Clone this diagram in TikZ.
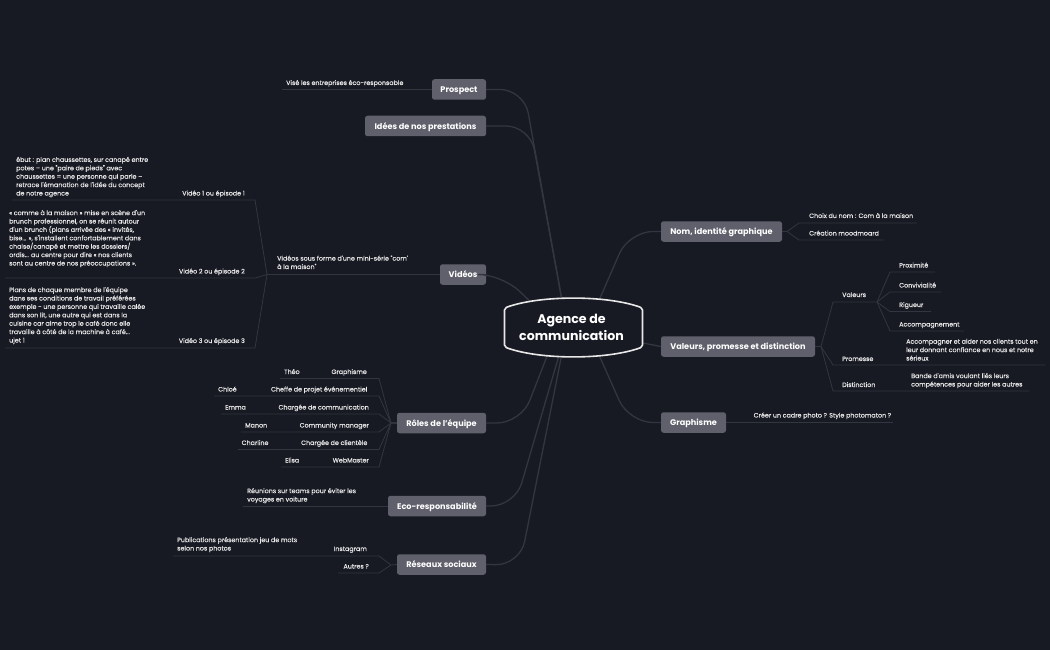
\documentclass[tikz,border=0pt]{standalone}
\usepackage{fontspec}
\setmainfont{Poppins}
\newfontfamily\leaffont{Poppins}[FakeBold=0.25]
\usepackage{xcolor}
\usetikzlibrary{positioning}
\definecolor{fond}{HTML}{171923}
\definecolor{branche}{HTML}{34363F}
\definecolor{sujet}{HTML}{5F606B}
\definecolor{texte}{HTML}{E8E8E8}
\begin{document}
\begin{tikzpicture}[x=1pt,y=-1pt]
\tikzstyle{topic}=[rounded corners=2.5pt, fill=sujet, text=white, inner sep=0pt, minimum height=20.5pt, text height=7pt, text depth=0.6pt, font=\fontsize{8.15}{10}\bfseries\selectfont]
\tikzstyle{leaf}=[inner sep=0pt, anchor=base west, align=left, text=texte, font=\fontsize{6.35}{8.4}\leaffont\selectfont]
\tikzstyle{leafr}=[leaf, anchor=base east, align=right]
\tikzstyle{branch}=[draw=branche, line width=1.3pt, rounded corners=24pt]
\tikzstyle{twig}=[draw=branche, line width=0.8pt]
\fill[fond] (0,0) rectangle (1050,650);
\coordinate (Agence) at (567,328);
\coordinate (AgenceL) at (558,328);
\coordinate (AgenceR) at (587,328);
% topics
\node[topic, minimum width=54pt] (Prospect) at (459,89.5) {Prospect};
\node[topic, minimum width=121pt] (Idees) at (425.5,126) {Idées de nos prestations};
\node[topic, minimum width=46pt] (Videos) at (463,274.5) {Vidéos};
\node[topic, minimum width=89pt] (Roles) at (441.5,423) {Rôles de l'équipe};
\node[topic, minimum width=98pt] (Eco) at (437,506) {Eco-responsabilité};
\node[topic, minimum width=89pt] (Reseaux) at (441.5,564.5) {Réseaux sociaux};
\node[topic, minimum width=121pt] (Nom) at (721.5,231.5) {Nom, identité graphique};
\node[topic, minimum width=154pt] (Valeurs) at (738,346.5) {Valeurs, promesse et distinction};
\node[topic, minimum width=65pt] (Graphisme) at (693.5,422.5) {Graphisme};
% main branches
\path[branch] (Prospect.east) -- (524,89.5) -- (Agence);
\path[branch] (Idees.east) -- (530,126) -- (Agence);
\path[branch] (Videos.east) -- (502,274.5) -- (AgenceL);
\path[branch] (Roles.east) -- (521,423) -- (AgenceL);
\path[branch] (Eco.east) -- (515,506) -- (Agence);
\path[branch] (Reseaux.east) -- (520,565) -- (Agence);
\path[branch] (Nom.west) -- (629,231.5) -- (AgenceR);
\path[branch] (Valeurs.west) -- (Agence);
\path[branch] (Graphisme.west) -- (629,422.5) -- (AgenceR);
% centre
\path[draw=texte, fill=fond, line width=1.6pt, rounded corners=2pt] (504.5,308) .. controls (540,295) and (607,295) .. (642.5,308) -- (642.5,347) .. controls (607,360) and (540,360) .. (504.5,347) -- cycle;
\node[inner sep=0pt, align=center, text=white, font=\fontsize{12.6}{17}\bfseries\selectfont] (Centre) at (571.5,327.5) {Agence de\\communication};
% prospect
\node[leaf] (Vise) at (286,85) {Visé les entreprises éco-responsable};
\coordinate (ProspectEnd) at (282,89.5);
\path[twig] (Prospect.west) -- (ProspectEnd);
% videos
\node[leaf] (Serie) at (277,269) {Vidéos sous forme d'une mini-série "com'\\à la maison"};
\node[leafr] (V1) at (245,195.5) {Vidéo 1 ou épisode 1};
\node[leafr] (V2) at (245,273.5) {Vidéo 2 ou épisode 2};
\node[leafr] (V3) at (245,343) {Vidéo 3 ou épisode 3};
\node[leaf] (V1t) at (16,195.5) {ébut : plan chaussettes, sur canapé entre\\potes – une "paire de pieds" avec\\chaussettes = une personne qui parle –\\retrace l'émanation de l'idée du concept\\de notre agence};
\node[leaf] (V2t) at (9,265.5) {« comme à la maison » mise en scène d'un\\brunch professionnel, on se réunit autour\\d'un brunch (plans arrivée des « invités,\\bise... », s'installent confortablement dans\\chaise/canapé et mettre les dossiers/\\ordis... au centre pour dire « nos clients\\sont au centre de nos préoccupations ».};
\node[leaf] (V3t) at (9,342.5) {Plans de chaque membre de l'équipe\\dans ses conditions de travail préférées\\exemple - une personne qui travaille calée\\dans son lit, une autre qui est dans la\\cuisine car aime trop le café donc elle\\travaille à côté de la machine à café...\\ujet 1};
\coordinate (VideosJ) at (267,274.5);
\coordinate (V1a) at (255,200); \coordinate (V1b) at (12,200);
\coordinate (V2a) at (255,278); \coordinate (V2b) at (5,278);
\coordinate (V3a) at (255,348); \coordinate (V3b) at (5,348);
\path[twig] (Videos.west) -- (VideosJ) -- (V1a) -- (V1b);
\path[twig] (VideosJ) -- (V2a) -- (V2b);
\path[twig] (VideosJ) -- (V3a) -- (V3b);
% roles
\coordinate (RolesJ) at (391,423);
\foreach \name/\yy/\xx/\rolex/\role/\who/\whox in {A/378.5/280/367/Graphisme/Théo/284, B/396/214/367.5/Cheffe de projet événementiel/Chloé/218, C/414/221/369/Chargée de communication/Emma/225, D/432/241/369/Community manager/Manon/245, E/449.5/238/367.5/Chargée de clientèle/Charline/241.5, F/467/281/369/WebMaster/Elisa/285}{
  \coordinate (R\name a) at (379,\yy);
  \coordinate (R\name b) at (\xx,\yy);
  \path[twig] (Roles.west) -- (RolesJ) -- (R\name a) -- (R\name b);
  \node[leafr] (R\name r) at (\rolex,\yy-4.5) {\role};
  \node[leaf] (R\name w) at (\whox,\yy-4.5) {\who};
}
% eco
\node[leaf] (Teams) at (247,501.5) {Réunions sur teams pour éviter les\\voyages en voiture};
\coordinate (EcoEnd) at (243,506);
\path[twig] (Eco.west) -- (EcoEnd);
% reseaux
\coordinate (ReseauxJ) at (391,565);
\coordinate (Insta) at (379,556); \coordinate (InstaEnd) at (173,556);
\coordinate (Autres) at (379,573); \coordinate (AutresEnd) at (338,573);
\path[twig] (Reseaux.west) -- (ReseauxJ) -- (Insta) -- (InstaEnd);
\path[twig] (ReseauxJ) -- (Autres) -- (AutresEnd);
\node[leafr] (InstaT) at (367,551) {Instagram};
\node[leafr] (AutresT) at (369,568.5) {Autres ?};
\node[leaf] (Pub) at (177,550.5) {Publications présentation jeu de mots\\selon nos photos};
% nom
\coordinate (NomJ) at (787,231.5);
\coordinate (Na) at (799,223); \coordinate (NaEnd) at (917,223);
\coordinate (Nb) at (799,240); \coordinate (NbEnd) at (884,240);
\path[twig] (Nom.east) -- (NomJ) -- (Na) -- (NaEnd);
\path[twig] (NomJ) -- (Nb) -- (NbEnd);
\node[leaf] (Choix) at (809,218) {Choix du nom : Com à la maison};
\node[leaf] (Moodboard) at (809,235.5) {Création moodmoard};
% valeurs
\coordinate (ValeursJ) at (821,346.5);
\coordinate (Va) at (833,302); \coordinate (ValJ) at (877,302);
\coordinate (Vb) at (833,365); \coordinate (VbEnd) at (1045,365);
\coordinate (Vc) at (833,391); \coordinate (VcEnd) at (1029,391);
\path[twig] (Valeurs.east) -- (ValeursJ) -- (Va) -- (ValJ);
\path[twig] (ValeursJ) -- (Vb) -- (VbEnd);
\path[twig] (ValeursJ) -- (Vc) -- (VcEnd);
\node[leaf] (Val) at (842,297) {Valeurs};
\node[leaf] (Prom) at (842,361) {Promesse};
\node[leaf] (Dist) at (842,387) {Distinction};
\node[leaf] (PromT) at (906,360.5) {Accompagner et aider nos clients tout en\\leur donnant confiance en nous et notre\\sérieux};
\node[leaf] (DistT) at (911,386.5) {Bande d'amis voulant liés leurs\\compétences pour aider les autres};
\foreach \name/\yy/\xx/\what in {P/272/935/Proximité, Q/292/941/Convivialité, R/311.5/931/Rigueur, S/331/964/Accompagnement}{
  \coordinate (\name a) at (890,\yy);
  \coordinate (\name b) at (\xx,\yy);
  \path[twig] (ValJ) -- (\name a) -- (\name b);
  \node[leaf] (\name t) at (899,\yy-4.5) {\what};
}
% graphisme
\coordinate (GraphEnd) at (893,422.5);
\path[twig] (Graphisme.east) -- (GraphEnd);
\node[leaf] (Cadre) at (753.5,417.5) {Créer un cadre photo ? Style photomaton ?};
\end{tikzpicture}
\end{document}
